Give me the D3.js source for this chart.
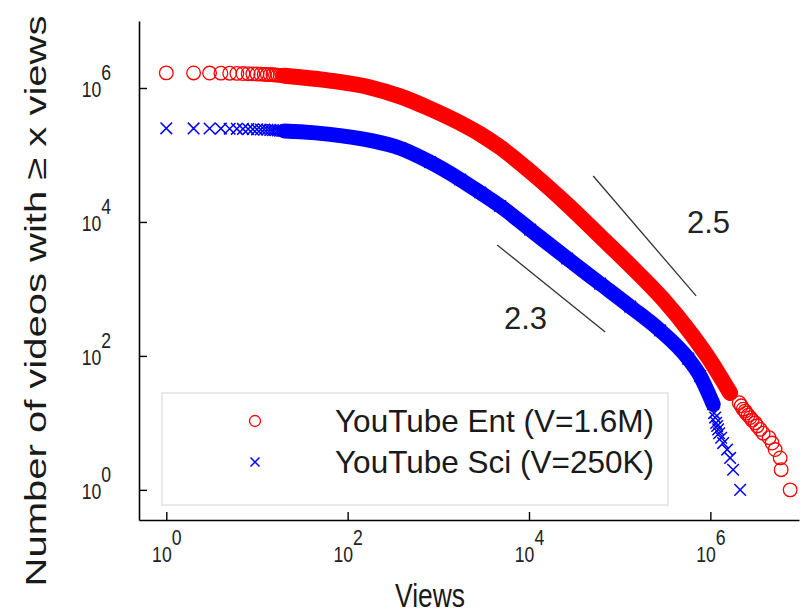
<!DOCTYPE html>
<html>
<head>
<meta charset="utf-8">
<script src="https://cdn.jsdelivr.net/npm/d3@7"></script>
<style>
  html, body { margin: 0; padding: 0; background: #fff; }
  svg { display: block; }
  text { font-family: "Liberation Sans", Arial, Helvetica, sans-serif; }
</style>
</head>
<body>
<svg id="chart" width="808" height="613"></svg>
<script>
// Complementary cumulative counts: number of videos with at least x views.
// YouTube Entertainment category
const entViews = [1, 2, 3, 4, 5, 6, 7, 8, 9, 10, 11, 12, 13, 14, 15, 16, 17, 18, 19, 20,
  30, 64, 177, 380, 814, 1743, 2896, 4810, 11120, 26360, 60950, 140900, 301700, 598500, 945500, 1652000,
  2080000, 2190000, 2300000, 2420000, 2480000, 2610000, 2750000, 2890000, 3120000, 3280000, 3540000,
  3820000, 4450000, 4800000, 5180000, 5890000, 6040000, 7590000];
const entCount = [1680000, 1676000, 1671000, 1665000, 1658000, 1650000, 1642000, 1634000, 1626000, 1617000,
  1608000, 1599000, 1590000, 1581000, 1572000, 1563000, 1554000, 1545000, 1536000, 1527000,
  1450000, 1290000, 1020000, 750000, 490000, 300000, 205000, 130000, 52000, 18300, 6100, 2030, 700, 225, 95, 28,
  20, 18, 16, 15, 14, 13, 12, 11, 10, 9, 8, 7, 6, 5, 4, 3, 2, 1];

// YouTube Science category
const sciViews = [1, 2, 3, 4, 5, 6, 7, 8, 9, 10, 11, 12, 13, 14, 15, 16, 17, 18, 19, 20,
  30, 64, 177, 380, 814, 1743, 2896, 4810, 10310, 26360, 60950, 130600, 279900, 569200, 772900, 1074000,
  1100000, 1130000, 1159000, 1190000, 1219000, 1250000, 1316000, 1384000, 1531000, 1652000, 1783000, 2132000];
const sciCount = [250000, 249200, 248400, 247500, 246600, 245600, 244600, 243500, 242400, 241300,
  240100, 238900, 237600, 236300, 235000, 233600, 232200, 230800, 229400, 228000,
  222000, 203000, 165000, 126000, 78000, 43000, 27500, 17300, 7700, 2850, 1200, 545, 240, 91, 50, 19,
  14, 12, 10, 9, 8, 7, 6, 5, 4, 3, 2, 1];

// Range of views over which each series is densely sampled (drawn as a solid trace)
const entDense = [20, 1652000];
const sciDense = [20, 1074000];

// Reference power-law guides: [views, count] endpoints and their exponent labels
const guideLabels = ["2.5", "2.3"];
const guideStart = [[51050, 48600], [4460, 4537]];
const guideEnd = [[697200, 786], [69200, 228]];

const seriesNames = ["YouTube Ent (V=1.6M)", "YouTube Sci (V=250K)"];
const xTicks = [1, 1e2, 1e4, 1e6];
const yTicks = [1, 1e2, 1e4, 1e6];

const RED = "#ff0000", BLUE = "#0000ff";
const INK = "#1a1a1a";

const svg = d3.select("#chart");
svg.append("rect").attr("width", 808).attr("height", 613).attr("fill", "#fff");

const x = d3.scaleLog().domain([0.5, 9.5e6]).range([139, 799]);
const y = d3.scaleLog().domain([0.355, 1e7]).range([520, 21]);

const zip = (a, b) => a.map((v, i) => ({ v, c: b[i] }));
const ent = zip(entViews, entCount);
const sci = zip(sciViews, sciCount);

// Legend box (drawn under the data)
const legend = svg.append("g");
legend.append("rect")
  .attr("x", 162).attr("y", 393).attr("width", 506).attr("height", 112)
  .attr("fill", "#fff").attr("stroke", "#e2e2e2").attr("stroke-width", 1.5);

// Dense traces
const line = d3.line().x(d => x(d.v)).y(d => y(d.c)).curve(d3.curveMonotoneX);
function trace(data, range, color, width) {
  const seg = data.filter(d => d.v >= range[0] && d.v <= range[1]);
  svg.append("path").datum(seg)
    .attr("d", line).attr("fill", "none").attr("stroke", color)
    .attr("stroke-width", width).attr("stroke-linecap", "round").attr("stroke-linejoin", "round");
}
trace(sci, sciDense, BLUE, 15);
trace(ent, entDense, RED, 16);

// Markers
const R = 6.8, XS = 5.8;
svg.append("g").selectAll("circle").data(ent).join("circle")
  .attr("cx", d => x(d.v)).attr("cy", d => y(d.c)).attr("r", R)
  .attr("fill", "none").attr("stroke", RED).attr("stroke-width", 1.3);

const crossPath = s => `M${-s},${-s}L${s},${s}M${-s},${s}L${s},${-s}`;
svg.append("g").selectAll("path").data(sci).join("path")
  .attr("transform", d => `translate(${x(d.v)},${y(d.c)})`)
  .attr("d", crossPath(XS))
  .attr("fill", "none").attr("stroke", BLUE).attr("stroke-width", 1.5);

// Axes
const fmtPow = d => Math.round(Math.log10(d));
const gx = svg.append("g").attr("transform", "translate(0,520)")
  .call(d3.axisBottom(x).tickValues(xTicks).tickSize(-8).tickSizeOuter(0));
const gy = svg.append("g").attr("transform", "translate(139,0)")
  .call(d3.axisLeft(y).tickValues(yTicks).tickSize(-8).tickSizeOuter(0));

[gx, gy].forEach(g => {
  g.select(".domain").attr("stroke", "#000").attr("stroke-width", 1.6);
  g.selectAll(".tick line").attr("stroke", "#000").attr("stroke-width", 1.4);
  g.attr("font-family", null).attr("font-size", null);
});

// Power-of-ten labels: "10" with a raised exponent, set in a narrow face
function powLabel(sel, tx, ty, anchor) {
  sel.text(null).attr("x", 0).attr("y", 0).attr("dy", null)
    .attr("transform", `translate(${tx},${ty}) scale(0.8,1)`)
    .attr("font-size", 22).attr("fill", "#222").attr("text-anchor", anchor)
    .each(function (d) {
      const t = d3.select(this);
      t.append("tspan").text("10");
      t.append("tspan").attr("dy", -17).text(fmtPow(d));
    });
}
powLabel(gx.selectAll(".tick text"), 0, 42, "middle");
powLabel(gy.selectAll(".tick text"), -28, 9, "end");

// Axis titles
svg.append("text").attr("transform", "translate(430,607) scale(0.8,1)")
  .attr("text-anchor", "middle").attr("font-size", 33).attr("fill", INK).text("Views");
svg.append("text").attr("transform", "translate(46,301) rotate(-90) scale(1,0.76)")
  .attr("text-anchor", "middle").attr("font-size", 40).attr("fill", INK)
  .text("Number of videos with \u2265 x views");

// Guide lines with exponent labels
const guideG = svg.append("g");
guideStart.forEach((s, i) => {
  guideG.append("line")
    .attr("x1", x(s[0])).attr("y1", y(s[1]))
    .attr("x2", x(guideEnd[i][0])).attr("y2", y(guideEnd[i][1]))
    .attr("stroke", "#333").attr("stroke-width", 1.3);
});
svg.append("text").attr("x", 687).attr("y", 233).attr("font-size", 31).attr("fill", "#222").text(guideLabels[0]);
svg.append("text").attr("x", 504).attr("y", 329).attr("font-size", 31).attr("fill", "#222").text(guideLabels[1]);

// Legend entries
legend.append("circle").attr("cx", 255).attr("cy", 421).attr("r", 5.5)
  .attr("fill", "none").attr("stroke", RED).attr("stroke-width", 1.3);
legend.append("path").attr("transform", "translate(255,462)").attr("d", crossPath(4.5))
  .attr("fill", "none").attr("stroke", BLUE).attr("stroke-width", 1.5);
legend.selectAll("text").data(seriesNames).join("text")
  .attr("x", 335).attr("y", (d, i) => 432 + i * 41)
  .attr("font-size", 31.5).attr("fill", INK).text(d => d);
</script>
</body>
</html>
